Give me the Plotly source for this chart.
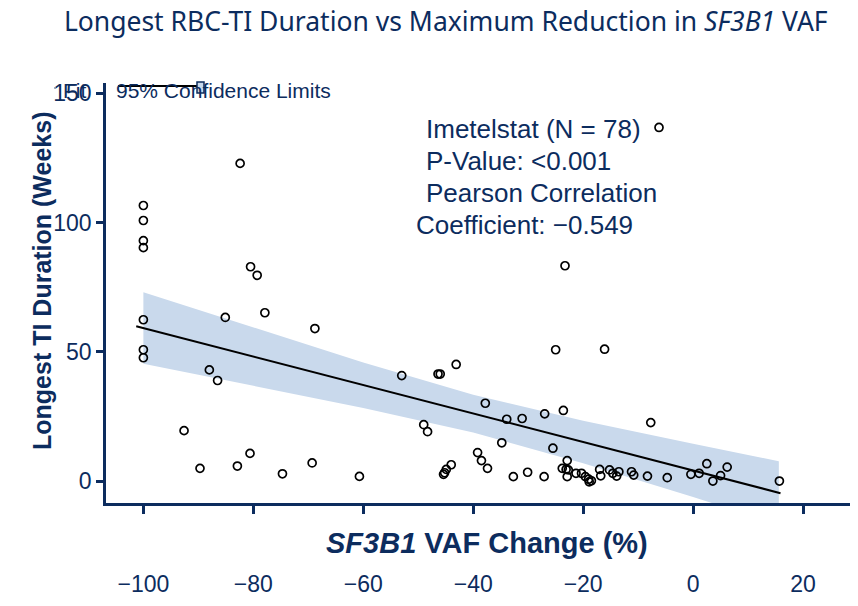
import plotly.graph_objects as go

# SF3B1 VAF change (%) vs longest RBC-TI duration (weeks)
vaf_change = [
    -100, -100, -100, -100, -100, -100, -100,
    -82.4, -80.5, -79.3, -85.1, -77.9, -68.8, -88.0, -86.5, -92.6, -89.7,
    -82.9, -80.6, -74.7, -69.3, -60.7, -53.0,
    -25.0, -16.1, -43.1, -46.4, -46.0, -37.8, -49.0, -48.3, -33.9, -31.1,
    -27.0, -23.6, -7.7, -34.8, -25.5, -39.2, -38.5, -37.4, -44.0, -44.9,
    -45.2, -45.4, -32.7, -30.1, -27.1, -23.8, -22.9, -22.7, -22.9, -21.3,
    -20.3, -19.6, -19.0, -18.5, -17.0, -16.8, -15.2, -14.6, -13.9, -13.5,
    -11.2, -10.8, -8.3, -4.7, -0.4, 1.1, 2.5, 3.6, 5.0, 6.2, 15.7,
    -6.2, -23.3, -18.9, -23.1,
]
ti_weeks = [
    106.6, 100.8, 93.0, 90.3, 62.4, 50.8, 47.7,
    122.9, 82.9, 79.6, 63.3, 65.1, 59.0, 43.0, 38.9, 19.5, 4.9,
    5.8, 10.7, 2.8, 7.0, 1.8, 40.8,
    50.8, 51.0, 45.1, 41.4, 41.4, 30.1, 21.8, 19.1, 23.9, 24.2,
    26.0, 27.3, 22.6, 14.8, 12.7, 11.0, 7.9, 4.9, 6.3, 4.5,
    3.2, 2.6, 1.7, 3.4, 1.7, 4.9, 7.9, 4.3, 1.7, 3.0,
    3.0, 1.7, 0.7, 0.1, 4.5, 2.0, 4.3, 3.0, 1.9, 3.6,
    3.6, 2.3, 1.9, 1.3, 2.6, 3.0, 6.7, 0.0, 2.1, 5.4, 0.0,
    136.8, 83.3, -0.3, 4.5,
]

# regression fit and 95% confidence limits
fit_x = [-101.3, 15.9]
fit_y = [59.9, -4.7]
band_x = [-100, -80, -60, -40, -20, 0, 15.6]
band_upper = [73.0, 59.5, 45.9, 33.4, 23.3, 14.4, 7.7]
band_lower = [45.4, 36.9, 28.3, 18.8, 6.9, -6.2, -16.7]

x_ticks = [-100, -80, -60, -40, -20, 0, 20]
y_ticks = [0, 50, 100, 150]

stats_lines = [
    "Imetelstat (N = 78)",
    "P-Value: <0.001",
    "Pearson Correlation",
    "Coefficient: \u22120.549",
]

NAVY = "#0c2c5e"
BAND = "#c9d9ec"
FONT = "Liberation Sans, Arial"

fig = go.Figure()

fig.add_trace(
    go.Scatter(
        x=band_x + band_x[::-1],
        y=band_upper + band_lower[::-1],
        fill="toself",
        fillcolor=BAND,
        line=dict(width=0, color=BAND),
        mode="lines",
        hoverinfo="skip",
        showlegend=False,
    )
)
fig.add_trace(
    go.Scatter(
        x=fit_x,
        y=fit_y,
        mode="lines",
        line=dict(color="black", width=2),
        showlegend=False,
    )
)
fig.add_trace(
    go.Scatter(
        x=vaf_change,
        y=ti_weeks,
        mode="markers",
        marker=dict(symbol="circle-open", size=8, color="black", line=dict(width=1.7)),
        showlegend=False,
    )
)

# the page body has an 8px margin, so the figure is 8px smaller and its
# plot area lands on page pixels x 106..858, y 83..503
OFF = 8
W, H = 858 - OFF, 606 - OFF
L, R, T, B = 106, 858, 83, 503


def px(xp):
    return (xp - L) / (R - L)


def py(yp):
    return (B - yp) / (B - T)


annotations = []
for i, line in enumerate(stats_lines):
    annotations.append(
        dict(
            x=px(424 if i < 3 else 414),
            y=py(129 + i * 32),
            xref="paper",
            yref="paper",
            text=line,
            showarrow=False,
            xanchor="left",
            yanchor="middle",
            font=dict(family=FONT, size=26, color=NAVY),
        )
    )

# x axis title (sits between the axis and its tick labels)
annotations.append(
    dict(
        x=px(487), y=py(543), xref="paper", yref="paper",
        text="<b><i>SF3B1</i> VAF Change (%)</b>", showarrow=False,
        xanchor="center", yanchor="middle",
        font=dict(family=FONT, size=29, color=NAVY),
    )
)
# y axis title
annotations.append(
    dict(
        x=px(42), y=py(281), xref="paper", yref="paper",
        text="<b>Longest TI Duration (Weeks)</b>", showarrow=False,
        textangle=-90, xanchor="center", yanchor="middle",
        font=dict(family=FONT, size=25, color=NAVY),
    )
)
# legend texts
annotations.append(
    dict(
        x=px(61), y=py(90), xref="paper", yref="paper", text="Fit",
        showarrow=False, xanchor="left", yanchor="middle",
        font=dict(family=FONT, size=21, color=NAVY),
    )
)
annotations.append(
    dict(
        x=px(114), y=py(90), xref="paper", yref="paper", text="95% Confidence Limits",
        showarrow=False, xanchor="left", yanchor="middle",
        font=dict(family=FONT, size=21, color=NAVY),
    )
)

shapes = [
    dict(type="line", xref="paper", yref="paper", x0=px(118), x1=px(197), y0=py(86), y1=py(86),
         line=dict(color="black", width=2)),
    dict(type="rect", xref="paper", yref="paper", x0=px(197), x1=px(204), y0=py(93), y1=py(82),
         fillcolor=BAND, line=dict(color=NAVY, width=1.5)),
    dict(type="line", xref="paper", yref="paper", x0=px(54), x1=px(56), y0=py(88), y1=py(88),
         line=dict(color="#8090a8", width=1.5)),
]

fig.update_layout(
    width=W,
    height=H,
    margin=dict(l=L - OFF, r=0, t=T - OFF, b=H - (B - OFF)),
    paper_bgcolor="white",
    plot_bgcolor="white",
    showlegend=False,
    title=dict(
        text="Longest RBC-TI Duration vs Maximum Reduction in <i>SF3B1</i> VAF",
        x=0.515,
        xanchor="center",
        y=1 - (22 - OFF) / H,
        yanchor="middle",
        font=dict(family="Noto Sans", size=26.5, color=NAVY),
    ),
    annotations=annotations,
    shapes=shapes,
    xaxis=dict(
        range=[-106.8, 30],
        tickvals=x_ticks,
        ticktext=[str(v).replace("-", "\u2212") for v in x_ticks],
        showgrid=False,
        zeroline=False,
        showline=True,
        linecolor=NAVY,
        linewidth=2.5,
        ticks="outside",
        ticklen=8,
        tickwidth=2.5,
        tickcolor=NAVY,
        ticklabelstandoff=51,
        automargin=False,
        tickfont=dict(family=FONT, size=23, color=NAVY),
    ),
    yaxis=dict(
        range=[-8.5, 154],
        tickvals=y_ticks,
        showgrid=False,
        zeroline=False,
        showline=True,
        linecolor=NAVY,
        linewidth=2.5,
        ticks="outside",
        ticklen=7,
        tickwidth=2.5,
        tickcolor=NAVY,
        automargin=False,
        tickfont=dict(family=FONT, size=23, color=NAVY),
    ),
)

fig.write_html("out.html")
